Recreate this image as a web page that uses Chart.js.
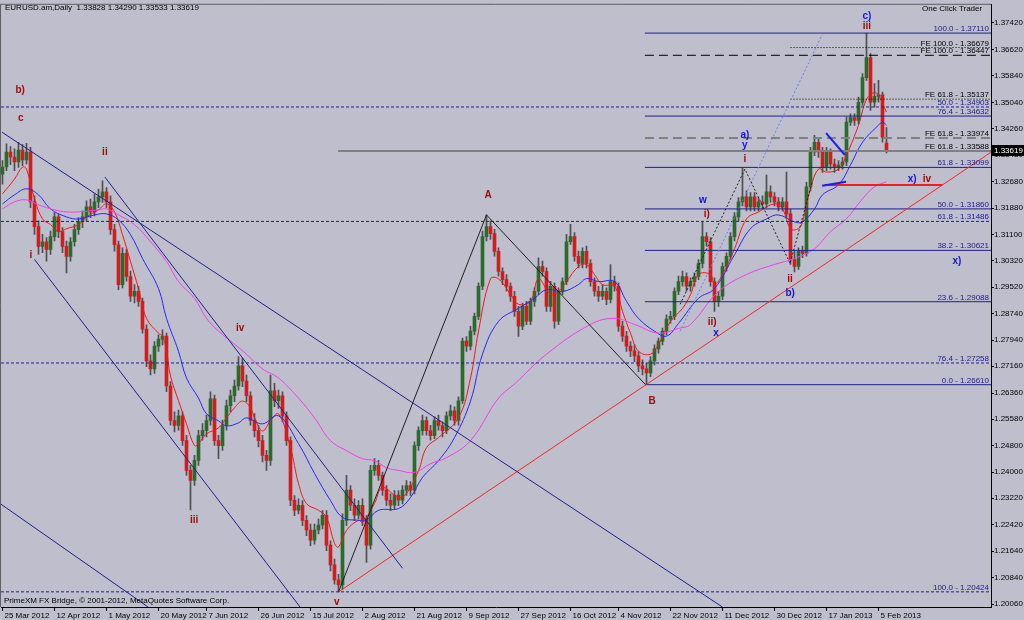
<!DOCTYPE html>
<html>
<head>
<meta charset="utf-8">
<title>EURUSD Daily</title>
<script src="https://cdn.jsdelivr.net/npm/chart.js@4.4.1/dist/chart.umd.min.js"></script>
<style>
  html, body { margin: 0; padding: 0; background: #bebecc; }
  #wrap { width: 1024px; height: 620px; }
</style>
</head>
<body>
<div id="wrap"><canvas id="eurusd" width="1024" height="620"></canvas></div>
<script>
// ---- data ----
const headerText = 'EURUSD.am,Daily  1.33828 1.34290 1.33533 1.33619'
const footerText = 'PrimeXM FX Bridge, \u00a9 2001-2012, MetaQuotes Software Corp.'
const lastPrice = 1.33619

// daily candles, [open, high, low, close]
const ohlc = [
  [1.3290,1.3330,1.3260,1.3311],[1.3311,1.3380,1.3300,1.3356],[1.3356,1.3372,1.3318,1.3341],[1.3341,1.3365,1.3300,1.3326],
  [1.3326,1.3385,1.3310,1.3362],[1.3362,1.3378,1.3315,1.3332],[1.3332,1.3382,1.3320,1.3356],[1.3356,1.3370,1.3190,1.3207],
  [1.3207,1.3225,1.3110,1.3133],[1.3133,1.3150,1.3050,1.3074],[1.3074,1.3110,1.3055,1.3088],[1.3088,1.3100,1.3030,1.3065],
  [1.3065,1.3120,1.3050,1.3103],[1.3103,1.3175,1.3090,1.3162],[1.3162,1.3170,1.3100,1.3118],[1.3118,1.3130,1.3055,1.3074],
  [1.3074,1.3090,1.2995,1.3044],[1.3044,1.3100,1.3030,1.3088],[1.3088,1.3140,1.3075,1.3124],[1.3124,1.3160,1.3110,1.3148],
  [1.3148,1.3180,1.3130,1.3162],[1.3162,1.3210,1.3150,1.3192],[1.3192,1.3215,1.3160,1.3177],[1.3177,1.3230,1.3165,1.3207],
  [1.3207,1.3245,1.3190,1.3222],[1.3222,1.3270,1.3205,1.3237],[1.3237,1.3250,1.3190,1.3207],[1.3207,1.3225,1.3110,1.3124],
  [1.3124,1.3140,1.3060,1.3079],[1.3079,1.3090,1.2945,1.2960],[1.2960,1.3070,1.2950,1.3053],[1.3053,1.3065,1.2970,1.2984],
  [1.2984,1.3000,1.2910,1.2925],[1.2925,1.2960,1.2905,1.2940],[1.2940,1.2955,1.2895,1.2910],[1.2910,1.2920,1.2815,1.2827],
  [1.2827,1.2840,1.2715,1.2732],[1.2732,1.2750,1.2690,1.2708],[1.2708,1.2790,1.2695,1.2776],[1.2776,1.2810,1.2760,1.2797],
  [1.2797,1.2825,1.2780,1.2806],[1.2806,1.2815,1.2640,1.2657],[1.2657,1.2670,1.2540,1.2554],[1.2554,1.2580,1.2520,1.2539],
  [1.2539,1.2585,1.2525,1.2568],[1.2568,1.2580,1.2480,1.2494],[1.2494,1.2510,1.2390,1.2405],[1.2405,1.2420,1.2287,1.2375],
  [1.2375,1.2450,1.2360,1.2435],[1.2435,1.2525,1.2420,1.2509],[1.2509,1.2545,1.2495,1.2524],[1.2524,1.2570,1.2505,1.2554],
  [1.2554,1.2640,1.2540,1.2619],[1.2619,1.2630,1.2480,1.2494],[1.2494,1.2510,1.2440,1.2479],[1.2479,1.2555,1.2465,1.2539],
  [1.2539,1.2615,1.2525,1.2598],[1.2598,1.2645,1.2580,1.2628],[1.2628,1.2675,1.2610,1.2657],[1.2657,1.2745,1.2645,1.2717],
  [1.2717,1.2740,1.2655,1.2672],[1.2672,1.2690,1.2610,1.2628],[1.2628,1.2640,1.2540,1.2554],[1.2554,1.2575,1.2505,1.2524],
  [1.2524,1.2540,1.2475,1.2494],[1.2494,1.2510,1.2430,1.2450],[1.2450,1.2465,1.2405,1.2435],[1.2435,1.2690,1.2420,1.2643],
  [1.2643,1.2665,1.2595,1.2613],[1.2613,1.2645,1.2590,1.2628],[1.2628,1.2640,1.2550,1.2568],[1.2568,1.2580,1.2480,1.2494],
  [1.2494,1.2505,1.2300,1.2316],[1.2316,1.2330,1.2270,1.2286],[1.2286,1.2320,1.2275,1.2301],[1.2301,1.2315,1.2240,1.2256],
  [1.2256,1.2270,1.2210,1.2227],[1.2227,1.2245,1.2180,1.2197],[1.2197,1.2245,1.2185,1.2227],[1.2227,1.2260,1.2215,1.2242],
  [1.2242,1.2285,1.2230,1.2271],[1.2271,1.2285,1.2165,1.2182],[1.2182,1.2195,1.2105,1.2123],[1.2123,1.2140,1.2065,1.2078],
  [1.2078,1.2095,1.2042,1.2063],[1.2063,1.2275,1.2050,1.2256],[1.2256,1.2390,1.2240,1.2346],[1.2346,1.2360,1.2285,1.2301],
  [1.2301,1.2320,1.2255,1.2271],[1.2271,1.2315,1.2260,1.2301],[1.2301,1.2320,1.2240,1.2256],[1.2256,1.2270,1.2130,1.2182],
  [1.2182,1.2420,1.2170,1.2405],[1.2405,1.2440,1.2390,1.2420],[1.2420,1.2435,1.2375,1.2390],[1.2390,1.2400,1.2330,1.2346],
  [1.2346,1.2360,1.2300,1.2316],[1.2316,1.2335,1.2285,1.2301],[1.2301,1.2345,1.2290,1.2331],[1.2331,1.2345,1.2300,1.2316],
  [1.2316,1.2360,1.2305,1.2346],[1.2346,1.2375,1.2330,1.2360],[1.2360,1.2372,1.2330,1.2346],[1.2346,1.2490,1.2335,1.2479],
  [1.2479,1.2535,1.2465,1.2524],[1.2524,1.2570,1.2510,1.2554],[1.2554,1.2565,1.2510,1.2524],[1.2524,1.2540,1.2495,1.2509],
  [1.2509,1.2565,1.2500,1.2554],[1.2554,1.2570,1.2525,1.2539],[1.2539,1.2550,1.2505,1.2524],[1.2524,1.2580,1.2515,1.2568],
  [1.2568,1.2600,1.2555,1.2583],[1.2583,1.2595,1.2540,1.2554],[1.2554,1.2625,1.2540,1.2613],[1.2613,1.2800,1.2605,1.2791],
  [1.2791,1.2805,1.2760,1.2776],[1.2776,1.2835,1.2765,1.2821],[1.2821,1.2875,1.2810,1.2865],[1.2865,1.2965,1.2855,1.2955],
  [1.2955,1.3120,1.2945,1.3103],[1.3103,1.3168,1.3090,1.3133],[1.3133,1.3150,1.3095,1.3112],[1.3112,1.3125,1.3045,1.3059],
  [1.3059,1.3070,1.2985,1.2999],[1.2999,1.3010,1.2960,1.2975],[1.2975,1.2990,1.2940,1.2955],[1.2955,1.2965,1.2910,1.2925],
  [1.2925,1.2940,1.2865,1.2880],[1.2880,1.2895,1.2805,1.2836],[1.2836,1.2905,1.2825,1.2895],[1.2895,1.2910,1.2840,1.2851],
  [1.2851,1.2920,1.2840,1.2910],[1.2910,1.2950,1.2895,1.2940],[1.2940,1.3040,1.2930,1.3014],[1.3014,1.3030,1.2985,1.2999],
  [1.2999,1.3010,1.2880,1.2895],[1.2895,1.2970,1.2880,1.2955],[1.2955,1.2965,1.2830,1.2851],[1.2851,1.2950,1.2840,1.2940],
  [1.2940,1.2980,1.2930,1.2969],[1.2969,1.3110,1.2960,1.3088],[1.3088,1.3140,1.3080,1.3103],[1.3103,1.3115,1.3030,1.3044],
  [1.3044,1.3060,1.3010,1.3023],[1.3023,1.3070,1.3010,1.3059],[1.3059,1.3075,1.3010,1.3023],[1.3023,1.3035,1.2955,1.2969],
  [1.2969,1.2980,1.2925,1.2940],[1.2940,1.2955,1.2910,1.2925],[1.2925,1.2960,1.2915,1.2940],[1.2940,1.2950,1.2900,1.2916],
  [1.2916,1.3020,1.2905,1.2969],[1.2969,1.2985,1.2940,1.2955],[1.2955,1.2965,1.2820,1.2836],[1.2836,1.2850,1.2790,1.2806],
  [1.2806,1.2820,1.2760,1.2776],[1.2776,1.2790,1.2745,1.2762],[1.2762,1.2780,1.2730,1.2747],[1.2747,1.2760,1.2700,1.2717],
  [1.2717,1.2735,1.2690,1.2708],[1.2708,1.2725,1.2661,1.2696],[1.2696,1.2745,1.2685,1.2732],[1.2732,1.2780,1.2720,1.2768],
  [1.2768,1.2800,1.2755,1.2791],[1.2791,1.2830,1.2780,1.2821],[1.2821,1.2870,1.2810,1.2857],[1.2857,1.2880,1.2845,1.2865],
  [1.2865,1.2950,1.2855,1.2940],[1.2940,1.2985,1.2930,1.2969],[1.2969,1.3000,1.2955,1.2984],[1.2984,1.2995,1.2940,1.2955],
  [1.2955,1.2980,1.2940,1.2969],[1.2969,1.2995,1.2955,1.2984],[1.2984,1.3035,1.2975,1.3023],[1.3023,1.3148,1.3010,1.3103],
  [1.3103,1.3115,1.3075,1.3088],[1.3088,1.3100,1.2955,1.2969],[1.2969,1.2980,1.2880,1.2910],[1.2910,1.2940,1.2895,1.2925],
  [1.2925,1.3025,1.2915,1.3014],[1.3014,1.3055,1.3000,1.3044],[1.3044,1.3115,1.3035,1.3103],[1.3103,1.3175,1.3090,1.3162],
  [1.3162,1.3220,1.3150,1.3207],[1.3207,1.3308,1.3195,1.3222],[1.3222,1.3240,1.3180,1.3192],[1.3192,1.3235,1.3180,1.3222],
  [1.3222,1.3235,1.3180,1.3192],[1.3192,1.3220,1.3180,1.3207],[1.3207,1.3225,1.3185,1.3201],[1.3201,1.3287,1.3190,1.3237],
  [1.3237,1.3255,1.3205,1.3222],[1.3222,1.3235,1.3195,1.3207],[1.3207,1.3220,1.3180,1.3192],[1.3192,1.3220,1.3180,1.3207],
  [1.3207,1.3296,1.3160,1.3171],[1.3171,1.3185,1.3020,1.3035],[1.3035,1.3060,1.2998,1.3014],[1.3014,1.3070,1.3005,1.3059],
  [1.3059,1.3075,1.3040,1.3053],[1.3053,1.3265,1.3045,1.3252],[1.3252,1.3370,1.3240,1.3356],[1.3356,1.3406,1.3345,1.3385],
  [1.3385,1.3395,1.3340,1.3356],[1.3356,1.3370,1.3295,1.3311],[1.3311,1.3370,1.3300,1.3356],[1.3356,1.3365,1.3305,1.3320],
  [1.3320,1.3335,1.3295,1.3311],[1.3311,1.3330,1.3300,1.3317],[1.3317,1.3340,1.3305,1.3326],[1.3326,1.3460,1.3315,1.3445],
  [1.3445,1.3470,1.3435,1.3459],[1.3459,1.3470,1.3435,1.3450],[1.3450,1.3520,1.3440,1.3504],[1.3504,1.3590,1.3495,1.3578],
  [1.3578,1.3711,1.3570,1.3638],[1.3638,1.3650,1.3480,1.3505],[1.3505,1.3560,1.3490,1.3522],[1.3522,1.3570,1.3505,1.3527],
  [1.3527,1.3535,1.3385,1.3400],[1.33828,1.34290,1.33533,1.33619]
]

// moving averages, [bar, price]
const maFast = [
  [0,1.3231],[3,1.3275],[5,1.3311],[6,1.3305],[8,1.3216],[10,1.3156],[12,1.3139],[14,1.3118],[16,1.3127],[19,1.3139],
  [21,1.3162],[24,1.3183],[26,1.3201],[28,1.3177],[30,1.3109],[32,1.3029],[34,1.2948],[36,1.2859],[39,1.2815],[40,1.2806],
  [41,1.2761],[42,1.2687],[44,1.2613],[46,1.2544],[48,1.2479],[49,1.2485],[51,1.2514],[54,1.2532],[56,1.2562],[58,1.2592],
  [60,1.2612],[62,1.2592],[63,1.2562],[65,1.2523],[67,1.2553],[69,1.2574],[72,1.2473],[74,1.2366],[76,1.2306],[79,1.2286],
  [81,1.2265],[83,1.2187],[84,1.2176],[86,1.2226],[89,1.2256],[90,1.2250],[93,1.2306],[95,1.2354],[99,1.2324],[101,1.2336],
  [104,1.2404],[106,1.2473],[109,1.2503],[114,1.2562],[117,1.2681],[119,1.2821],[122,1.2977],[124,1.2977],[127,1.2931],
  [129,1.2901],[132,1.2910],[134,1.2977],[137,1.2931],[139,1.2939],[141,1.2969],[144,1.3014],[146,1.3020],[148,1.2990],
  [150,1.2960],[153,1.2955],[155,1.2880],[157,1.2815],[159,1.2761],[162,1.2752],[164,1.2782],[167,1.2850],[170,1.2889],
  [172,1.2930],[174,1.2990],[177,1.2990],[178,1.2960],[180,1.2990],[183,1.3067],[186,1.3156],[189,1.3177],[193,1.3201],
  [195,1.3186],[197,1.3127],[199,1.3127],[200,1.3147],[202,1.3246],[204,1.3305],[206,1.3296],[209,1.3305],[211,1.3347],
  [214,1.3436],[216,1.3513],[218,1.3534],[219,1.3525],[221,1.3475]
]
const maMid = [
  [0,1.3201],[3,1.3228],[6,1.3246],[9,1.3228],[12,1.3186],[16,1.3162],[19,1.3156],[23,1.3168],[26,1.3171],[29,1.3153],
  [32,1.3109],[35,1.3038],[39,1.2948],[41,1.2859],[44,1.2761],[46,1.2681],[49,1.2621],[51,1.2574],[54,1.2553],[56,1.2538],
  [59,1.2547],[61,1.2562],[65,1.2544],[69,1.2568],[74,1.2485],[78,1.2396],[82,1.2315],[85,1.2265],[89,1.2256],[91,1.2256],
  [94,1.2286],[99,1.2291],[102,1.2324],[105,1.2384],[109,1.2434],[113,1.2503],[117,1.2612],[120,1.2752],[124,1.2850],
  [129,1.2889],[133,1.2919],[136,1.2945],[140,1.2939],[144,1.2960],[146,1.2978],[149,1.2969],[153,1.2969],[156,1.2910],
  [159,1.2859],[163,1.2821],[166,1.2806],[169,1.2844],[174,1.2919],[178,1.2948],[183,1.3049],[187,1.3127],[191,1.3156],
  [194,1.3168],[198,1.3147],[200,1.3147],[203,1.3186],[205,1.3228],[209,1.3258],[212,1.3317],[215,1.3385],[219,1.3436],
  [220,1.3445],[221,1.3436]
]
const maSlow = [
  [0,1.3186],[3,1.3207],[6,1.3213],[9,1.3198],[13,1.3183],[16,1.3177],[19,1.3177],[24,1.3183],[26,1.3186],[29,1.3168],
  [33,1.3139],[37,1.3088],[41,1.3029],[44,1.2969],[48,1.2919],[51,1.2859],[54,1.2821],[58,1.2782],[61,1.2752],[65,1.2708],
  [69,1.2681],[74,1.2621],[78,1.2562],[82,1.2494],[86,1.2464],[90,1.2440],[93,1.2434],[96,1.2413],[99,1.2405],[103,1.2399],
  [107,1.2425],[111,1.2443],[117,1.2494],[124,1.2621],[128,1.2663],[136,1.2752],[147,1.2841],[153,1.2859],[158,1.2841],
  [164,1.2815],[169,1.2829],[172,1.2841],[179,1.2939],[186,1.2990],[193,1.3020],[198,1.3038],[203,1.3067],[207,1.3118],
  [211,1.3157],[215,1.3216],[218,1.3252],[221,1.3267]
]

// axes
const priceTicks = [1.37420, 1.36620, 1.35840, 1.35040, 1.34260, 1.33480, 1.32680, 1.31880, 1.31100, 1.30320, 1.29520, 1.28740,
  1.27940, 1.27160, 1.26360, 1.25580, 1.24800, 1.24000, 1.23220, 1.22420, 1.21640, 1.20840, 1.20060]
const dateTickBars = [0, 13, 26, 39, 51, 64, 77, 90, 103, 116, 129, 142, 154, 167, 180, 193, 206, 219]
const dateTickLabels = ['25 Mar 2012', '12 Apr 2012', '1 May 2012', '20 May 2012', '7 Jun 2012', '26 Jun 2012', '15 Jul 2012',
  '2 Aug 2012', '21 Aug 2012', '9 Sep 2012', '27 Sep 2012', '16 Oct 2012', '4 Nov 2012', '22 Nov 2012', '11 Dec 2012',
  '30 Dec 2012', '17 Jan 2013', '5 Feb 2013']

// fibonacci objects
const fibPrices = [1.26610, 1.29088, 1.30621, 1.31860, 1.33099, 1.34632, 1.37110]
const fibLevels = ['0.0', '23.6', '38.2', '50.0', '61.8', '76.4', '100.0']
const fibStartBar = 160.6
const fib2Prices = [1.34903, 1.31486, 1.27258, 1.20424]
const fib2Levels = ['50.0', '61.8', '76.4', '100.0']
const fePrices = [1.36679, 1.36447, 1.35137, 1.33974, 1.33588]
const feLevels = ['FE 100.0', 'FE 100.0', 'FE 61.8', 'FE 61.8', 'FE 61.8']
const feStartBars = [197, 160.6, 197, 160.6, 83.9]

// trend lines, [bar1, price1, bar2, price2]
const channelLines = [
  [-0.125, 1.3415, 180, 1.1997],
  [8, 1.3035, 74.4, 1.1997],
  [25.6, 1.3281, 100, 1.2113],
  [-0.6, 1.2306, 36.4, 1.1997]
]
const supportLine = [84, 1.2042, 247.1, 1.3355]
const abBars = [84, 121, 160.6]
const abPrices = [1.2042, 1.3168, 1.2663]
const swingBars = [169.4, 185.6, 196.9, 202.4]
const swingPrices = [1.2901, 1.3305, 1.3023, 1.3266]
const projection = [169.4, 1.2821, 204.9, 1.3706]
const wedgeUpper = [205.9, 1.3412, 210.6, 1.3347]
const wedgeLower = [204.9, 1.3255, 210.9, 1.3267]
const ivLevel = [205.6, 1.3257, 235, 1.3257]

// wave counts
const waveText = ['b)', 'c', 'ii', 'i', 'iii', 'iv', 'v', 'A', 'B', 'w', 'i)', 'ii)', 'x', 'a)', 'y', 'i', 'ii', 'b)', 'c)', 'iii', 'x)', 'iv', 'x)']
const waveBar = [4.4, 4.6, 25.6, 7.1, 47.9, 59.4, 83.6, 121.4, 162.4, 175.1, 176.1, 177.4, 178.4, 185.6, 185.6, 185.6, 196.9, 196.9, 216.1, 216.1, 227.4, 231.1, 238.6]
const wavePrice = [1.3540, 1.3457, 1.3356, 1.3049, 1.2256, 1.2829, 1.2012, 1.3228, 1.2612, 1.3213, 1.3171, 1.2847, 1.2815, 1.3406, 1.3376, 1.3335, 1.2975, 1.2934, 1.3760, 1.3730, 1.3275, 1.3275, 1.3029]
const waveDegree = ['r', 'r', 'r', 'r', 'r', 'r', 'r', 'r', 'r', 'b', 'r', 'r', 'b', 'b', 'b', 'r', 'r', 'b', 'b', 'r', 'b', 'r', 'b']

// ---- chart ----
const X_MIN = -0.375
const X_MAX = 247.125
const FONT = '"Liberation Sans", Arial, sans-serif'
const NAVY = '#20208c'
const WAVE_RED = '#a00c0c'
const WAVE_BLUE = '#1414d2'

Chart.defaults.font.family = FONT
Chart.defaults.font.size = 8
Chart.defaults.color = '#000'

const pt = (x, y) => ({ x, y })

const lineSet = (points, color, width, dash, order) => ({
  type: 'line',
  data: points,
  borderColor: color,
  borderWidth: width,
  borderDash: dash || [],
  pointRadius: 0,
  fill: false,
  tension: 0,
  order: order || 1
})

const segmentSet = (s, color, width, dash) => lineSet([pt(s[0], s[1]), pt(s[2], s[3])], color, width, dash)

const maSet = (points, color) => ({
  ...lineSet(points.map(p => pt(p[0], p[1])), color, 1, null, 5),
  tension: 0.4
})

const wicks = ohlc.map((c, i) => ({ x: i, y: [c[2], c[1]] }))
const bullBodies = []
const bearBodies = []
ohlc.forEach((c, i) => {
  if (c[3] >= c[0]) bullBodies.push({ x: i, y: [c[0], c[3]] })
  else bearBodies.push({ x: i, y: [c[3], c[0]] })
})

const datasets = [
  { type: 'bar', data: wicks, backgroundColor: '#505050', barThickness: 1, grouped: false, order: 10 },
  { type: 'bar', data: bullBodies, backgroundColor: '#2c6a2c', barThickness: 3, grouped: false, minBarLength: 1, order: 9 },
  { type: 'bar', data: bearBodies, backgroundColor: '#d01e1e', barThickness: 3, grouped: false, minBarLength: 1, order: 9 },
  maSet(maSlow, '#f040e8'),
  maSet(maMid, '#2828f0'),
  maSet(maFast, '#f01818')
]

channelLines.forEach(s => datasets.push(segmentSet(s, NAVY, 1)))
datasets.push(segmentSet(supportLine, '#f02828', 1))
datasets.push(lineSet(abBars.map((b, i) => pt(b, abPrices[i])), '#202020', 1))
datasets.push(lineSet(swingBars.map((b, i) => pt(b, swingPrices[i])), '#202020', 1, [2, 2]))
datasets.push(segmentSet(projection, '#6a80f0', 1, [2, 2]))
datasets.push(segmentSet(wedgeUpper, '#1e1ef0', 2))
datasets.push(segmentSet(wedgeLower, '#1e1ef0', 2))
datasets.push(segmentSet(ivLevel, '#f01e1e', 2))

fibPrices.forEach(p => datasets.push(segmentSet([fibStartBar, p, X_MAX, p], NAVY, 1)))
fib2Prices.forEach(p => datasets.push(segmentSet([X_MIN, p, X_MAX, p], NAVY, 1, [3, 2])))

const feStyles = [
  { color: '#000', width: 1, dash: [1, 2] },
  { color: '#000', width: 1, dash: [9, 5] },
  { color: '#000', width: 1, dash: [1, 2] },
  { color: '#808080', width: 2, dash: [9, 5] },
  { color: '#808080', width: 2, dash: [] }
]
fePrices.forEach((p, i) => {
  const st = feStyles[i]
  datasets.push(segmentSet([feStartBars[i], p, X_MAX, p], st.color, st.width, st.dash))
})

const overlay = {
  id: 'overlay',
  afterDatasetsDraw(chart) {
    const { ctx, chartArea: a, scales: { x, y } } = chart
    ctx.save()
    ctx.beginPath()
    ctx.rect(a.left, a.top, a.right - a.left, a.bottom - a.top)
    ctx.clip()

    // level captions at the right edge
    ctx.font = '8px ' + FONT
    ctx.textAlign = 'right'
    ctx.textBaseline = 'bottom'
    const caption = (text, price, color) => {
      ctx.fillStyle = color
      ctx.fillText(text, a.right - 2, Math.round(y.getPixelForValue(price)))
    }
    fibPrices.forEach((p, i) => caption(fibLevels[i] + ' - ' + p.toFixed(5), p, NAVY))
    fib2Prices.forEach((p, i) => caption(fib2Levels[i] + ' - ' + p.toFixed(5), p, NAVY))
    fePrices.forEach((p, i) => caption(feLevels[i] + ' - ' + p.toFixed(5), p, '#000'))

    // wave labels
    ctx.font = 'bold 10px "Liberation Sans", sans-serif'
    ctx.textAlign = 'center'
    ctx.textBaseline = 'middle'
    waveText.forEach((t, i) => {
      ctx.fillStyle = waveDegree[i] === 'r' ? WAVE_RED : WAVE_BLUE
      ctx.fillText(t, x.getPixelForValue(waveBar[i]), y.getPixelForValue(wavePrice[i]))
    })
    ctx.restore()
  },
  afterDraw(chart) {
    const { ctx, chartArea: a, scales: { y } } = chart
    ctx.save()
    ctx.strokeStyle = '#606060'
    ctx.lineWidth = 1
    ctx.beginPath()
    ctx.moveTo(a.left - 0.5, a.bottom)
    ctx.lineTo(a.left - 0.5, a.top - 0.5)
    ctx.lineTo(a.right, a.top - 0.5)
    ctx.stroke()

    ctx.fillStyle = '#000'
    ctx.font = '8px ' + FONT
    ctx.textAlign = 'left'
    ctx.textBaseline = 'middle'
    ctx.fillText(headerText, 5, 8)
    ctx.fillText(footerText, 4, 601)
    ctx.fillText('One Click Trader', 922, 9)

    // last price marker on the price axis
    const py = Math.round(y.getPixelForValue(lastPrice))
    ctx.fillRect(a.right + 1, py - 5, 33, 11)
    ctx.fillStyle = '#fff'
    ctx.fillText(lastPrice.toFixed(5), a.right + 3, py + 0.5)
    ctx.restore()
  }
}

new Chart(document.getElementById('eurusd'), {
  type: 'bar',
  data: { datasets },
  options: {
    responsive: false,
    animation: false,
    devicePixelRatio: 1,
    layout: { padding: { left: 1, top: 2, right: 0, bottom: 0 } },
    plugins: { legend: { display: false }, tooltip: { enabled: false } },
    scales: {
      x: {
        type: 'linear',
        min: X_MIN,
        max: X_MAX,
        offset: false,
        afterBuildTicks: s => { s.ticks = dateTickBars.map(v => ({ value: v })) },
        afterFit: s => { s.height = 13 },
        ticks: {
          autoSkip: false,
          maxRotation: 0,
          minRotation: 0,
          align: 'start',
          labelOffset: 2,
          padding: 0,
          color: '#000',
          font: { size: 8 },
          callback: (v, i) => dateTickLabels[i]
        },
        grid: { offset: false, drawOnChartArea: false, tickLength: 4, color: '#000' },
        border: { display: true, color: '#000' }
      },
      y: {
        type: 'linear',
        position: 'right',
        min: 1.19971,
        max: 1.37955,
        afterBuildTicks: s => { s.ticks = priceTicks.map(v => ({ value: v })) },
        afterFit: s => { s.width = 33 },
        ticks: {
          autoSkip: false,
          padding: 0,
          color: '#000',
          font: { size: 8 },
          callback: v => v.toFixed(5)
        },
        grid: { drawOnChartArea: false, tickLength: 3, color: '#000' },
        border: { display: true, color: '#000' }
      }
    }
  },
  plugins: [overlay]
})
</script>
</body>
</html>
